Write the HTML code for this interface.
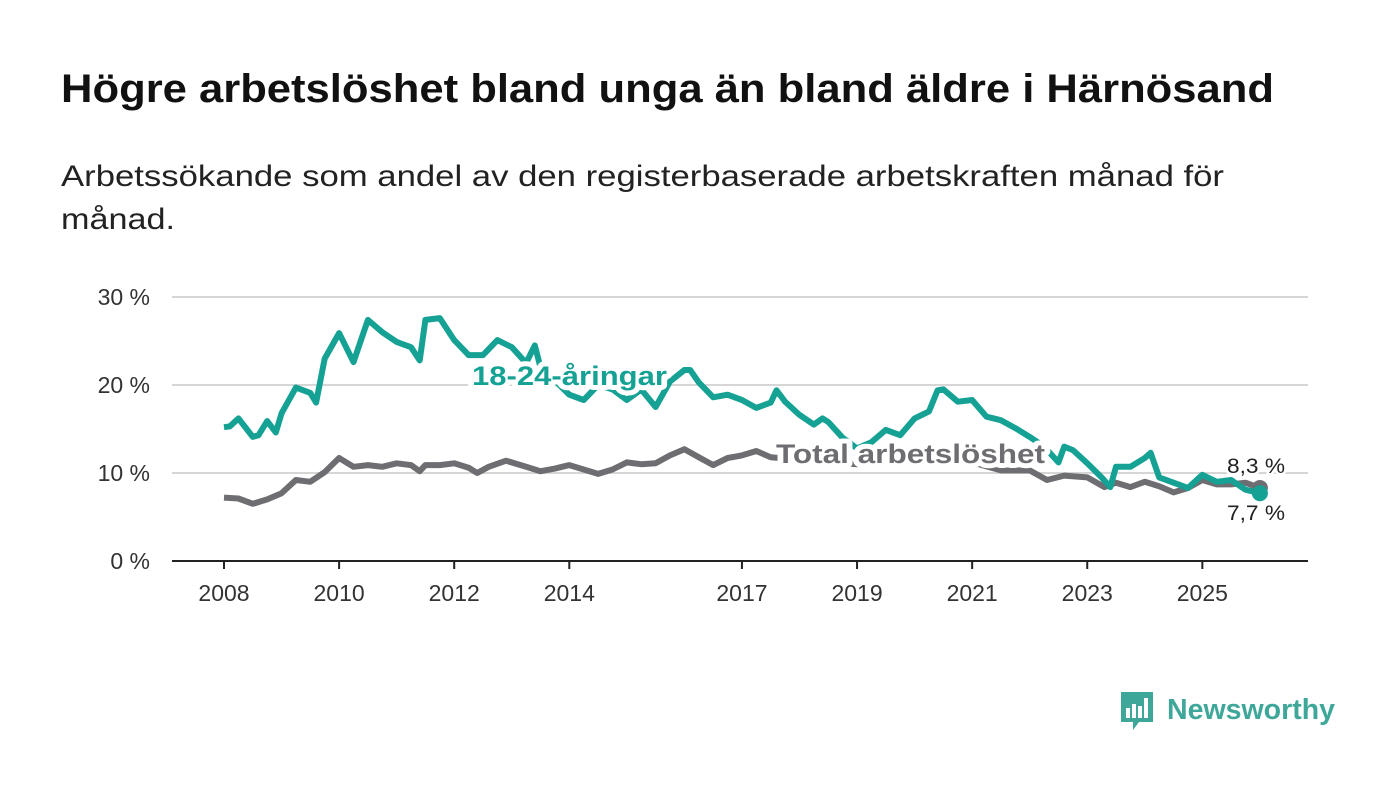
<!DOCTYPE html>
<html><head><meta charset="utf-8"><style>
body{margin:0;background:#fff;width:1400px;height:794px;overflow:hidden;font-family:"Liberation Sans","DejaVu Sans",sans-serif}
</style></head><body>
<svg width="1400" height="794" xmlns="http://www.w3.org/2000/svg" id="chart">
<text x="61" y="102" font-size="40" font-weight="bold" fill="#111" textLength="1213" lengthAdjust="spacingAndGlyphs">Högre arbetslöshet bland unga än bland äldre i Härnösand</text>
<text x="61" y="186" font-size="30" fill="#222" textLength="1163" lengthAdjust="spacingAndGlyphs">Arbetssökande som andel av den registerbaserade arbetskraften månad för</text>
<text x="61" y="229" font-size="30" fill="#222" textLength="114" lengthAdjust="spacingAndGlyphs">månad.</text>
<g id="grid"></g><g id="series"></g><g id="labels"></g>
<g>
<path d="M1121 692h32v30h-14l-6 8v-8h-12z" fill="#3fa79a"/>
<rect x="1126" y="708" width="4" height="10" fill="#fff"/><rect x="1132" y="704" width="4" height="14" fill="#fff"/><rect x="1138" y="706" width="4" height="12" fill="#fff"/><rect x="1144" y="698" width="4" height="20" fill="#fff"/>
<text x="1167" y="719" font-size="29" font-weight="bold" fill="#3fa79a" textLength="168" lengthAdjust="spacingAndGlyphs">Newsworthy</text>
</g>
</svg>
<script>
const yTicks=[0,10,20,30];
const xTickYears=[2008,2010,2012,2014,2017,2019,2021,2023,2025];
const youthT=[2008,2008.1,2008.25,2008.5,2008.6,2008.75,2008.9,2009,2009.25,2009.5,2009.6,2009.75,2010,2010.25,2010.5,2010.75,2011,2011.25,2011.4,2011.5,2011.75,2012,2012.25,2012.5,2012.75,2013,2013.25,2013.4,2013.5,2013.75,2014,2014.25,2014.5,2014.75,2015,2015.25,2015.5,2015.75,2016,2016.1,2016.25,2016.5,2016.75,2017,2017.25,2017.5,2017.6,2017.75,2018,2018.25,2018.4,2018.5,2018.75,2019,2019.25,2019.5,2019.75,2020,2020.25,2020.4,2020.5,2020.75,2021,2021.25,2021.5,2021.75,2022,2022.25,2022.5,2022.6,2022.75,2023,2023.25,2023.4,2023.5,2023.75,2024,2024.1,2024.25,2024.5,2024.75,2025,2025.25,2025.5,2025.75,2026];
const youthV=[15.2,15.3,16.2,14.1,14.3,15.9,14.6,16.8,19.7,19.1,18.0,23.0,25.9,22.6,27.4,26.0,24.9,24.3,22.8,27.4,27.6,25.1,23.4,23.4,25.1,24.3,22.5,24.5,22.0,20.5,18.9,18.3,20.0,19.5,18.3,19.5,17.5,20.4,21.7,21.7,20.3,18.6,18.9,18.3,17.4,18.0,19.4,18.1,16.6,15.5,16.2,15.8,14.0,12.8,13.5,14.9,14.3,16.2,17.0,19.4,19.5,18.1,18.3,16.4,16.0,15.1,14.1,13.0,11.2,13.0,12.6,11.1,9.5,8.4,10.7,10.7,11.7,12.3,9.5,8.9,8.3,9.8,9.0,9.2,8.1,7.7];
const totalT=[2008,2008.25,2008.5,2008.75,2009,2009.25,2009.5,2009.75,2010,2010.25,2010.5,2010.75,2011,2011.25,2011.4,2011.5,2011.75,2012,2012.25,2012.4,2012.6,2012.9,2013.25,2013.5,2013.75,2014,2014.25,2014.5,2014.75,2015,2015.25,2015.5,2015.75,2016,2016.25,2016.5,2016.75,2017,2017.25,2017.5,2018,2019,2020,2021,2021.5,2022,2022.3,2022.6,2023,2023.3,2023.5,2023.75,2024,2024.25,2024.5,2024.75,2025,2025.25,2025.5,2025.75,2026];
const totalV=[7.2,7.1,6.5,7.0,7.7,9.2,9.0,10.1,11.7,10.7,10.9,10.7,11.1,10.9,10.2,10.9,10.9,11.1,10.6,10.0,10.7,11.4,10.7,10.2,10.5,10.9,10.4,9.9,10.4,11.2,11.0,11.1,12.0,12.7,11.8,10.9,11.7,12.0,12.5,11.8,11.5,11.0,11.5,11.2,10.3,10.3,9.2,9.7,9.5,8.4,8.9,8.4,9.0,8.5,7.8,8.3,9.2,8.7,8.7,8.9,8.3];
const NS="http://www.w3.org/2000/svg";
const xS=t=>224+(t-2008)*57.55, yS=v=>561-v*8.8;
function mk(tag,attrs,parent){const e=document.createElementNS(NS,tag);for(const k in attrs)e.setAttribute(k,attrs[k]);parent.appendChild(e);return e;}
const grid=document.getElementById('grid'),ser=document.getElementById('series'),lab=document.getElementById('labels');
yTicks.forEach(v=>{
 if(v>0){const l=mk('line',{x1:172,x2:1308,y1:yS(v),y2:yS(v),stroke:'#d6d6d6','stroke-width':2},grid);
 
 }
 const t=mk('text',{x:150,y:yS(v)+8,'font-size':23,fill:'#333','text-anchor':'end'},grid);t.textContent=v+' %';
 
 
});
const ax=mk('line',{x1:172,x2:1308,y1:561,y2:561,stroke:'#222','stroke-width':2},grid);


xTickYears.forEach(y=>{
 const tk=mk('line',{x1:xS(y),x2:xS(y),y1:561,y2:569,stroke:'#222','stroke-width':2},grid);
 
 
 const t=mk('text',{x:xS(y),y:601,'font-size':23,fill:'#333','text-anchor':'middle'},grid);t.textContent=y;
 
 
});
function line(T,V,col,name){
 const d=T.map((t,i)=>(i?'L':'M')+xS(t).toFixed(1)+','+yS(V[i]).toFixed(1)).join('');
 const p=mk('path',{d:d,fill:'none',stroke:col,'stroke-width':6,'stroke-linejoin':'round'},ser);
 
 
 const c=mk('circle',{cx:xS(T[T.length-1]),cy:yS(V[V.length-1]),r:8,fill:col},ser);
 
 
}
line(totalT,totalV,'#6e6d72','total-line');
line(youthT,youthV,'#15a294','youth-line');
function label(x,y,txt,col,size,bold,w,name){
 const t=mk('text',{x:x,y:y,'font-size':size,'font-weight':bold?'bold':'normal',fill:col,stroke:'#fff','stroke-width':bold?10:5,'paint-order':'stroke','stroke-linejoin':'round',textLength:w,lengthAdjust:'spacingAndGlyphs'},lab);t.textContent=txt;
 
 
}
label(472,385,'18-24-åringar','#15a294',27,true,195,'youth-series-label');
label(776,463,'Total arbetslöshet','#6e6d72',27,true,269,'total-series-label');
label(1227,473,'8,3 %','#222',21,false,58,'total-end-value');
label(1227,520,'7,7 %','#222',21,false,58,'youth-end-value');
</script>
</body></html>
